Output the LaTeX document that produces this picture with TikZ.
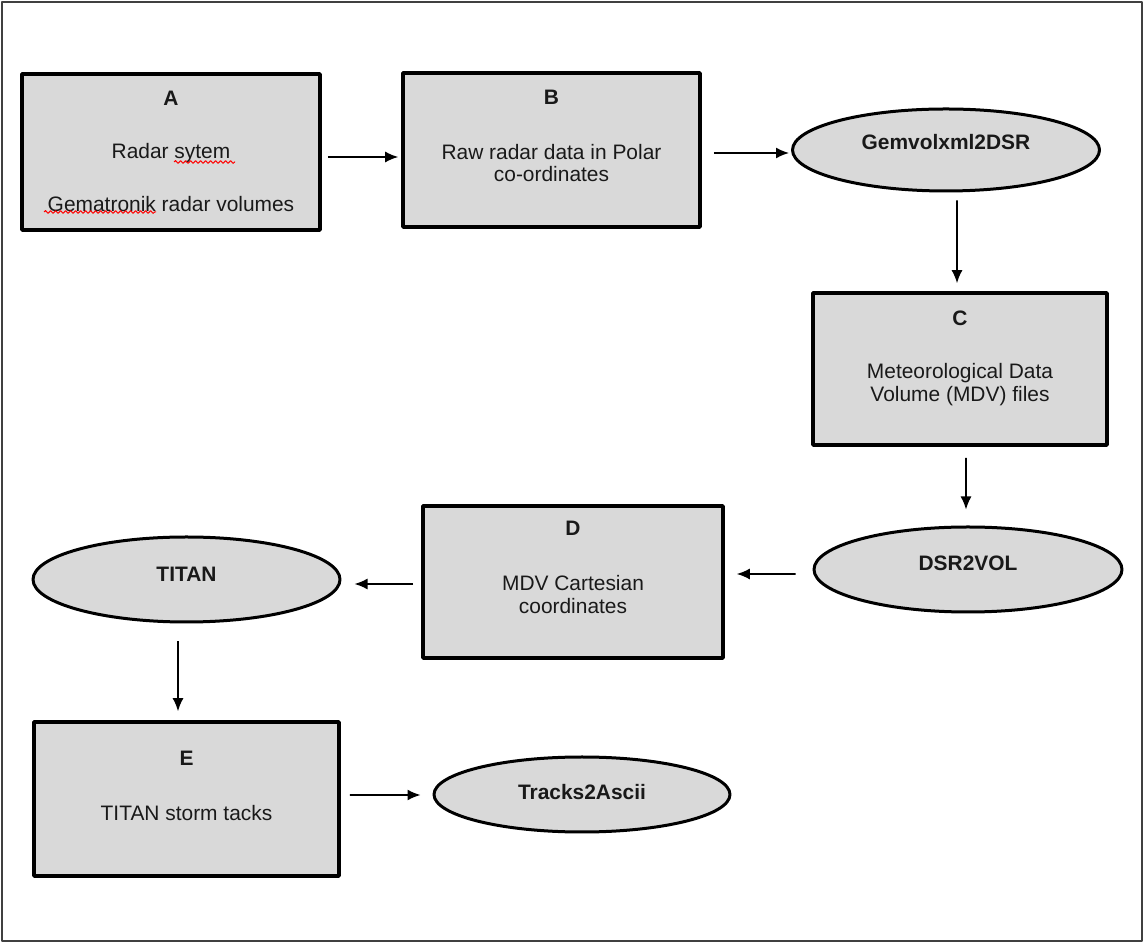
\documentclass[tikz,border=0pt]{standalone}
\usepackage{fontspec}
\setmainfont{Liberation Sans}
\usetikzlibrary{shapes.geometric,arrows.meta,decorations.pathmorphing}
\definecolor{boxgray}{RGB}{217,217,217}
\definecolor{framegray}{RGB}{64,64,64}
\begin{document}
\begin{tikzpicture}[>={Latex[length=13bp,width=11bp]},line join=bevel,
  stagebox/.style={draw,fill=boxgray,line width=3.6bp,inner sep=0pt,minimum width=298bp,minimum height=154bp},
  progbox/.style={ellipse,draw,fill=boxgray,line width=3bp,inner sep=0pt,minimum width=307bp,minimum height=84bp},
  bodytext/.style={font=\fontsize{21}{23}\selectfont,align=center,inner sep=0pt,text=black!90},
  headtext/.style={font=\fontsize{21}{23}\selectfont\bfseries,inner sep=0pt,text=black!90},
  flow/.style={black,line width=1.6bp,->},
  spell/.style={red,line width=1bp,decorate,decoration={snake,amplitude=1.4bp,segment length=5bp}}]
%%
\useasboundingbox (0bp,0bp) rectangle (1144bp,943bp);
\draw [framegray,line width=2.2bp] (2bp,2bp) rectangle (1142bp,941bp);
%
\node (A) at (171bp,791bp) [stagebox,minimum height=156bp] {};
  \node (B) at (551.5bp,793bp) [stagebox,minimum width=297bp] {};
  \node (C) at (960bp,574bp) [stagebox,minimum width=294bp,minimum height=152bp] {};
  \node (D) at (573bp,361bp) [stagebox,minimum width=300bp,minimum height=152bp] {};
  \node (E) at (186.5bp,144bp) [stagebox,minimum width=305bp] {};
  \node (gemvol) at (946bp,793bp) [progbox,minimum height=82bp] {};
  \node (dsr) at (968bp,373.5bp) [progbox,minimum width=308bp,minimum height=85bp] {};
  \node (titan) at (186.5bp,363.5bp) [progbox,minimum height=85bp] {};
  \node (tracks) at (582bp,148.5bp) [progbox,minimum width=296bp,minimum height=75bp] {};
%
\node (A_head) at (171bp,845bp) [headtext] {A};
  \node (A_body) at (171bp,765.5bp) [bodytext] {Radar sytem\\[30bp]Gematronik radar volumes};
  \node (B_head) at (551.5bp,846bp) [headtext] {B};
  \node (B_body) at (551.5bp,780bp) [bodytext] {Raw radar data in Polar\\co-ordinates};
  \node (C_head) at (960bp,625bp) [headtext] {C};
  \node (C_body) at (960bp,558.5bp) [bodytext] {Meteorological Data\\Volume (MDV) files};
  \node (D_head) at (573bp,415bp) [headtext] {D};
  \node (D_body) at (573bp,348.5bp) [bodytext] {MDV Cartesian\\coordinates};
  \node (E_head) at (186.5bp,185bp) [headtext] {E};
  \node (E_body) at (186.5bp,130bp) [bodytext] {TITAN storm tacks};
  \node (gemvol_name) at (946bp,801bp) [headtext] {Gemvolxml2DSR};
  \node (dsr_name) at (968bp,380bp) [headtext] {DSR2VOL};
  \node (titan_name) at (186.5bp,369bp) [headtext] {TITAN};
  \node (tracks_name) at (582bp,151bp) [headtext] {Tracks2Ascii};
%
\draw [spell] (174bp,781bp) -- (235bp,781bp);
  \draw [spell] (44bp,731bp) -- (156bp,731bp);
%
\draw [flow] ([xshift=6bp,yshift=-5bp]A.east) -- ([xshift=-3bp,yshift=-5bp]A.east -| B.west);
  \draw [flow] ([xshift=12bp,yshift=-3bp]B.east) -- ([xshift=-2bp,yshift=-3bp]B.east -| gemvol.west);
  \draw [flow] ([xshift=11bp,yshift=-8bp]gemvol.south) -- ([xshift=-3bp,yshift=8bp]C.north);
  \draw [flow] ([xshift=6bp,yshift=-11bp]C.south) -- ([xshift=-2bp,yshift=16bp]dsr.north);
  \draw [flow] ([xshift=-17bp,yshift=-4.5bp]dsr.west) -- ([xshift=12bp,yshift=8bp]D.east);
  \draw [flow] ([xshift=-8bp,yshift=-2bp]D.west) -- ([xshift=13bp,yshift=-4.5bp]titan.east);
  \draw [flow] ([xshift=-8.5bp,yshift=-18bp]titan.south) -- ([xshift=-8.5bp,yshift=9bp]E.north);
  \draw [flow] ([xshift=9bp,yshift=4bp]E.east) -- ([xshift=-12bp,yshift=-0.5bp]tracks.west);
%
\end{tikzpicture}
\end{document}
